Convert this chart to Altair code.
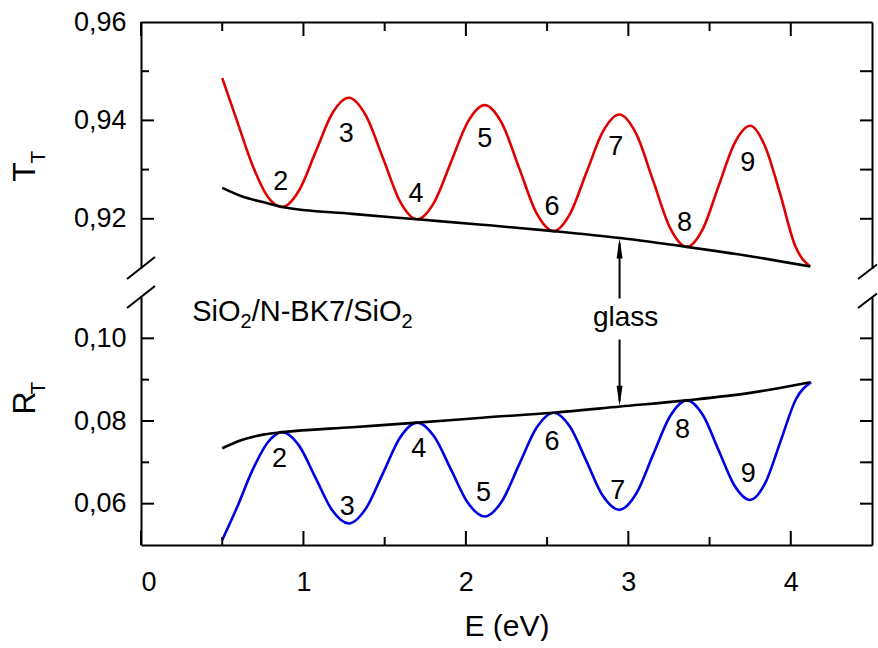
import altair as alt
import pandas as pd

FONT = "Liberation Sans"
RED = "#e00000"
BLUE = "#0000e0"

# ---------------- data ----------------
E_red = [0.50, 0.59, 0.685, 0.78, 0.869,
         0.972, 1.074, 1.177, 1.279,
         1.384, 1.490, 1.595, 1.70,
         1.804, 1.908, 2.012, 2.116,
         2.222, 2.328, 2.434, 2.54,
         2.641, 2.742, 2.843, 2.944,
         3.048, 3.152, 3.256, 3.36,
         3.458, 3.555, 3.653, 3.75,
         3.842, 3.935, 4.027, 4.119]
T_red = [0.9486, 0.9400, 0.9310, 0.9245, 0.9224,
         0.9257, 0.9335, 0.9414, 0.9446,
         0.9410, 0.9323, 0.9235, 0.9199,
         0.9233, 0.9315, 0.9397, 0.9431,
         0.9394, 0.9303, 0.9212, 0.9175,
         0.9210, 0.9294, 0.9377, 0.9412,
         0.9373, 0.9278, 0.9182, 0.9143,
         0.9179, 0.9266, 0.9353, 0.9389,
         0.9347, 0.9250, 0.9145, 0.9103]

E_blue = [0.50, 0.59, 0.685, 0.78, 0.869,
          0.972, 1.074, 1.177, 1.279,
          1.384, 1.490, 1.595, 1.70,
          1.804, 1.908, 2.012, 2.116,
          2.222, 2.328, 2.434, 2.54,
          2.641, 2.742, 2.843, 2.944,
          3.048, 3.152, 3.256, 3.36,
          3.458, 3.555, 3.653, 3.75,
          3.844, 3.938, 4.031, 4.125]
R_blue = [0.0512, 0.0590, 0.0680, 0.0748, 0.0773,
          0.0741, 0.0663, 0.0584, 0.0552,
          0.0588, 0.0674, 0.0760, 0.0796,
          0.0763, 0.0683, 0.0602, 0.0569,
          0.0606, 0.0695, 0.0783, 0.0820,
          0.0786, 0.0703, 0.0619, 0.0585,
          0.0624, 0.0718, 0.0811, 0.0850,
          0.0815, 0.0730, 0.0644, 0.0609,
          0.0651, 0.0752, 0.0852, 0.0894]

E_glass = [0.50, 0.62, 0.75, 0.87, 1.30, 1.70, 2.10, 2.54, 2.95, 3.36, 3.75, 4.12]
T_glass = [0.9263, 0.9246, 0.9234, 0.9224, 0.9210, 0.9199, 0.9188, 0.9175, 0.9161,
           0.9143, 0.9124, 0.9103]
R_glass = [0.0734, 0.0754, 0.0767, 0.0773, 0.0785, 0.0796, 0.0808, 0.0820, 0.0835,
           0.0850, 0.0868, 0.0894]

peak_labels = ["2", "3", "4", "5", "6", "7", "8", "9"]
T_lab_E = [0.86, 1.263, 1.693, 2.116, 2.53, 2.923, 3.346, 3.735]
T_lab_v = [0.9275, 0.9373, 0.9251, 0.9363, 0.9224, 0.9345, 0.9191, 0.9314]
R_lab_E = [0.853, 1.269, 1.71, 2.109, 2.53, 2.935, 3.333, 3.739]
R_lab_v = [0.0709, 0.0593, 0.0733, 0.0625, 0.0749, 0.0630, 0.0778, 0.0671]

# annotations
arrow_E = [2.946]
arrow_up_from = [0.9038]
arrow_up_to = [0.9150]
arrow_up_tip = [0.9160]
arrow_dn_from = [0.0997]
arrow_dn_to = [0.0848]
arrow_dn_tip = [0.0837]
glass_E = [2.983]
glass_v = [0.1029]
glass_txt = ["glass"]
sample_E = [0.315]
sample_v = [0.1041]
sample_parts = ["SiO", "2", "/N-BK7/SiO", "2"]
ytitle_main = ["T", "R"]
ytitle_sub = ["T", "T"]

# axis ticks
x_major = [0, 1, 2, 3, 4]
x_minor = [0.5, 1.5, 2.5, 3.5]
T_labels = [0.92, 0.94, 0.96]
T_major = [0.92, 0.94]
T_minor = [0.93, 0.95]
T_right = [0.92, 0.93, 0.94, 0.95]
R_labels = [0.06, 0.08, 0.10]
R_major = [0.06, 0.08, 0.10]
R_minor = [0.07, 0.09]
R_right = [0.06, 0.07, 0.08, 0.09, 0.10]

# ---------------- layout ----------------
W = 731
HT = 246
HB = 248

xs = alt.Scale(domain=[0, 4.5], nice=False, zero=False)
yT = alt.Scale(domain=[0.91, 0.96], nice=False, zero=False)
yR = alt.Scale(domain=[0.05, 0.11], nice=False, zero=False)

df_red = pd.DataFrame({"E": E_red, "v": T_red})
df_blue = pd.DataFrame({"E": E_blue, "v": R_blue})
df_gT = pd.DataFrame({"E": E_glass, "v": T_glass})
df_gR = pd.DataFrame({"E": E_glass, "v": R_glass})
df_labT = pd.DataFrame({"E": T_lab_E, "v": T_lab_v, "t": peak_labels})
df_labR = pd.DataFrame({"E": R_lab_E, "v": R_lab_v, "t": peak_labels})
one = pd.DataFrame({"k": [0]})

LINE_W = 2.6
AX_W = 2


def vticks(vals, yscale, x0, x1):
    return alt.Chart(pd.DataFrame({"v": vals})).mark_rule(color="black", strokeWidth=AX_W).encode(
        x=alt.value(x0), x2=alt.value(x1), y=alt.Y("v:Q", scale=yscale, axis=None))


def hticks(vals, y0, y1):
    return alt.Chart(pd.DataFrame({"E": vals})).mark_rule(color="black", strokeWidth=AX_W).encode(
        x=alt.X("E:Q", scale=xs, axis=None), y=alt.value(y0), y2=alt.value(y1))


def slash(x0, x1, y0, y1):
    return alt.Chart(one).mark_rule(color="black", strokeWidth=AX_W).encode(
        x=alt.value(x0), x2=alt.value(x1), y=alt.value(y0), y2=alt.value(y1))


def ytitle(i, yc):
    main = alt.Chart(pd.DataFrame({"t": [ytitle_main[i]]})).mark_text(
        font=FONT, fontSize=32, angle=270, align="center", baseline="middle", color="black"
    ).encode(x=alt.value(-116), y=alt.value(yc), text="t:N")
    sub = alt.Chart(pd.DataFrame({"t": [ytitle_sub[i]]})).mark_text(
        font=FONT, fontSize=21, angle=270, align="center", baseline="middle", color="black"
    ).encode(x=alt.value(-102), y=alt.value(yc - 15), text="t:N")
    return main + sub


def sample_text():
    # main-size and subscript-size pieces of "SiO2/N-BK7/SiO2"
    big = 29
    small = 20
    w_sio = 1.667 * big
    w_two = 0.556 * small
    w_mid = 5.168 * big
    offsets = [0, w_sio, w_sio + w_two, w_sio + w_two + w_mid]
    sizes = [big, small, big, small]
    drops = [0, 7, 0, 7]
    layers = []
    for part, dx, fs, dy in zip(sample_parts, offsets, sizes, drops):
        layers.append(
            alt.Chart(pd.DataFrame({"E": sample_E, "v": sample_v, "t": [part]})).mark_text(
                font=FONT, fontSize=fs, color="black", align="left", baseline="alphabetic", dx=dx, dy=dy
            ).encode(x=alt.X("E:Q", scale=xs, axis=None), y=alt.Y("v:Q", scale=yR, axis=None), text="t:N"))
    return alt.layer(*layers)


label_expr = "replace(datum.label, '.', ',')"

# ---------- top panel (T_T) ----------
top_red = alt.Chart(df_red).mark_line(color=RED, strokeWidth=LINE_W, interpolate="monotone").encode(
    x=alt.X("E:Q", scale=xs, axis=alt.Axis(orient="top", labels=False, ticks=False, domain=True,
                                            domainColor="black", domainWidth=AX_W, title=None, grid=False)),
    y=alt.Y("v:Q", scale=yT, axis=alt.Axis(orient="left", values=T_labels, format=".2f", labelExpr=label_expr,
                                            ticks=False, labelPadding=15, labelFontSize=27, labelFont=FONT,
                                            labelColor="black", domainColor="black", domainWidth=AX_W,
                                            title=None, grid=False)))
top_glass = alt.Chart(df_gT).mark_line(color="black", strokeWidth=LINE_W, interpolate="monotone").encode(
    x=alt.X("E:Q", scale=xs, axis=None), y=alt.Y("v:Q", scale=yT, axis=None))
top_right = alt.Chart(pd.DataFrame({"v": T_right})).mark_rule(color="black", strokeWidth=AX_W).encode(
    x=alt.value(W - 12), x2=alt.value(W),
    y=alt.Y("v:Q", scale=yT, axis=alt.Axis(orient="right", labels=False, ticks=False, domain=True,
                                            domainColor="black", domainWidth=AX_W, title=None, grid=False)))
top_lab = alt.Chart(df_labT).mark_text(font=FONT, fontSize=27, color="black", baseline="middle").encode(
    x=alt.X("E:Q", scale=xs, axis=None), y=alt.Y("v:Q", scale=yT, axis=None), text="t:N")
top_arrow = alt.Chart(pd.DataFrame({"E": arrow_E, "a": arrow_up_from, "b": arrow_up_to})).mark_rule(
    color="black", strokeWidth=2).encode(
    x=alt.X("E:Q", scale=xs, axis=None), y=alt.Y("a:Q", scale=yT, axis=None), y2="b:Q")
top_head = alt.Chart(pd.DataFrame({"E": arrow_E, "v": arrow_up_tip})).mark_point(
    shape="M0,0 L-0.3,2 L0.3,2 Z", filled=True, size=400, color="black", opacity=1).encode(
    x=alt.X("E:Q", scale=xs, axis=None), y=alt.Y("v:Q", scale=yT, axis=None))

top = alt.layer(
    top_red, top_glass, top_right, top_lab, top_arrow, top_head,
    vticks(T_major, yT, 0, 13), vticks(T_minor, yT, 0, 8),
    hticks(x_major, 0, 14), hticks(x_minor, 0, 9),
    slash(-14, 14, HT + 11, HT - 11), slash(W - 14, W + 5, HT + 11, HT - 3.5),
    ytitle(0, 150),
).resolve_axis(x="independent", y="independent").properties(width=W, height=HT)

# ---------- bottom panel (R_T) ----------
bot_blue = alt.Chart(df_blue).mark_line(color=BLUE, strokeWidth=LINE_W, interpolate="monotone").encode(
    x=alt.X("E:Q", scale=xs, axis=alt.Axis(orient="bottom", values=x_major, format="d", ticks=False,
                                            labelPadding=24, labelFontSize=27, labelFont=FONT, labelColor="black",
                                            domainColor="black", domainWidth=AX_W, title="E (eV)",
                                            titleFont=FONT, titleFontSize=30, titleFontWeight="normal",
                                            titleColor="black", titlePadding=16, grid=False)),
    y=alt.Y("v:Q", scale=yR, axis=alt.Axis(orient="left", values=R_labels, format=".2f", labelExpr=label_expr,
                                            ticks=False, labelPadding=15, labelFontSize=27, labelFont=FONT,
                                            labelColor="black", domainColor="black", domainWidth=AX_W,
                                            title=None, grid=False)))
bot_glass = alt.Chart(df_gR).mark_line(color="black", strokeWidth=LINE_W, interpolate="monotone").encode(
    x=alt.X("E:Q", scale=xs, axis=None), y=alt.Y("v:Q", scale=yR, axis=None))
bot_right = alt.Chart(pd.DataFrame({"v": R_right})).mark_rule(color="black", strokeWidth=AX_W).encode(
    x=alt.value(W - 12), x2=alt.value(W),
    y=alt.Y("v:Q", scale=yR, axis=alt.Axis(orient="right", labels=False, ticks=False, domain=True,
                                            domainColor="black", domainWidth=AX_W, title=None, grid=False)))
bot_lab = alt.Chart(df_labR).mark_text(font=FONT, fontSize=27, color="black", baseline="middle").encode(
    x=alt.X("E:Q", scale=xs, axis=None), y=alt.Y("v:Q", scale=yR, axis=None), text="t:N")
bot_arrow = alt.Chart(pd.DataFrame({"E": arrow_E, "a": arrow_dn_from, "b": arrow_dn_to})).mark_rule(
    color="black", strokeWidth=2).encode(
    x=alt.X("E:Q", scale=xs, axis=None), y=alt.Y("a:Q", scale=yR, axis=None), y2="b:Q")
bot_head = alt.Chart(pd.DataFrame({"E": arrow_E, "v": arrow_dn_tip})).mark_point(
    shape="M0,0 L-0.3,-2 L0.3,-2 Z", filled=True, size=400, color="black", opacity=1).encode(
    x=alt.X("E:Q", scale=xs, axis=None), y=alt.Y("v:Q", scale=yR, axis=None))
bot_glass_txt = alt.Chart(pd.DataFrame({"E": glass_E, "v": glass_v, "t": glass_txt})).mark_text(
    font=FONT, fontSize=28, color="black", align="center", baseline="alphabetic").encode(
    x=alt.X("E:Q", scale=xs, axis=None), y=alt.Y("v:Q", scale=yR, axis=None), text="t:N")

bottom = alt.layer(
    bot_blue, bot_glass, bot_right, bot_lab, bot_arrow, bot_head, bot_glass_txt, sample_text(),
    vticks(R_major, yR, 0, 13), vticks(R_minor, yR, 0, 8),
    hticks(x_major, HB - 14, HB), hticks(x_minor, HB - 8, HB),
    slash(-14, 14, 11, -11), slash(W - 14, W + 5, 11, -3.5),
    ytitle(1, 106),
).resolve_axis(x="independent", y="independent").properties(width=W, height=HB)

chart = alt.vconcat(top, bottom, spacing=29, bounds="flush").properties(
    padding={"left": 9, "top": 8, "right": 0, "bottom": 0}
).configure(font=FONT).configure_view(stroke=None)

chart.save("out.html", embed_options={"renderer": "svg", "actions": False})
